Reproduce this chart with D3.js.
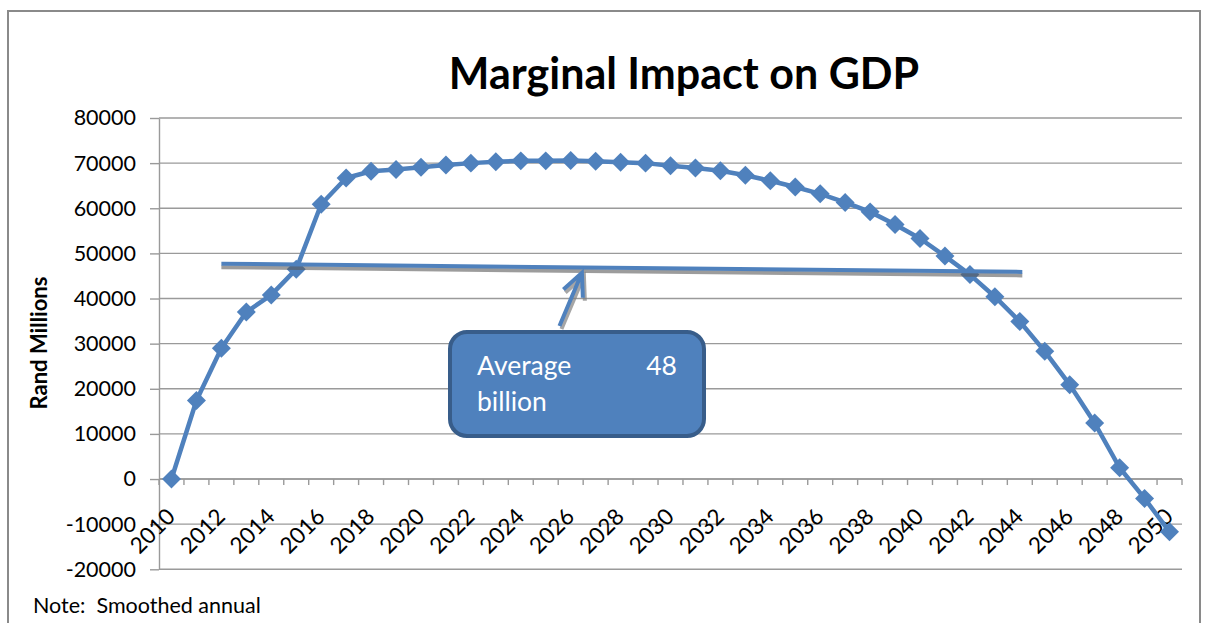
<!DOCTYPE html>
<html>
<head>
<meta charset="utf-8">
<script src="https://cdn.jsdelivr.net/npm/d3@7/dist/d3.min.js"></script>
<style>
  body { margin: 0; background: #fff; }
  svg { display: block; font-family: Lato, 'Open Sans', sans-serif; }
</style>
</head>
<body>
<div id="chart"></div>
<script>
// data
var years = [2010, 2011, 2012, 2013, 2014, 2015, 2016, 2017, 2018, 2019,
  2020, 2021, 2022, 2023, 2024, 2025, 2026, 2027, 2028, 2029,
  2030, 2031, 2032, 2033, 2034, 2035, 2036, 2037, 2038, 2039,
  2040, 2041, 2042, 2043, 2044, 2045, 2046, 2047, 2048, 2049, 2050];

var impact = [0, 17400, 29000, 37000, 40800, 46500, 60900, 66700, 68200, 68600,
  69100, 69600, 70000, 70300, 70500, 70500, 70600, 70400, 70200, 70000,
  69400, 68900, 68300, 67300, 66100, 64700, 63200, 61300, 59200, 56400,
  53300, 49400, 45300, 40400, 34900, 28300, 20900, 12400, 2500, -4300, -11700];

var yTicks = [-20000, -10000, 0, 10000, 20000, 30000, 40000, 50000, 60000, 70000, 80000];

// hand-drawn average line and arrow (year, value)
var avgYears = [2012, 2044.1];
var avgValues = [47700, 45900];
var arrowYears = [2025.55, 2026.45];
var arrowValues = [33900, 45700];

var titleText = 'Marginal Impact on GDP';
var yTitle = 'Rand Millions';
var noteText = 'Note:  Smoothed annual';
var calloutLines = ['Average', 'billion'];
var calloutValue = '48';

(function() {
  var width = 1205;
  var height = 623;

  // plot area edges
  var left = 159;
  var right = 1182;
  var top = 118;
  var bottom = 569.3;

  var blue = '#4f81bd';
  var gridColor = '#9a9a9a';

  var svg = d3.select('#chart').append('svg')
    .attr('width', width)
    .attr('height', height);

  // chart frame
  svg.append('rect')
    .attr('x', 8).attr('y', 11)
    .attr('width', 1192).attr('height', 700)
    .attr('fill', '#fff')
    .attr('stroke', '#8a8a8a')
    .attr('stroke-width', 2);

  var x = d3.scaleBand()
    .domain(years)
    .range([left, right])
    .paddingInner(0)
    .paddingOuter(0);
  var bw = x.bandwidth();

  // continuous x for annotations placed between categories
  var xLin = d3.scaleLinear()
    .domain([years[0], years[years.length - 1]])
    .range([x(years[0]) + bw / 2, x(years[years.length - 1]) + bw / 2]);

  var y = d3.scaleLinear()
    .domain([yTicks[0], yTicks[yTicks.length - 1]])
    .range([bottom, top]);

  // grid
  svg.append('g')
    .selectAll('line')
    .data(yTicks)
    .enter()
    .append('line')
    .attr('x1', left)
    .attr('x2', right)
    .attr('y1', function(d) { return y(d); })
    .attr('y2', function(d) { return y(d); })
    .attr('stroke', gridColor)
    .attr('stroke-width', 1.4);

  // y axis (plain hyphen for negatives, like the original)
  var yaxis = d3.axisLeft(y)
    .tickValues(yTicks)
    .tickSize(9)
    .tickSizeOuter(0)
    .tickPadding(14)
    .tickFormat(function(d) { return String(d); });

  var yg = svg.append('g')
    .attr('transform', 'translate(' + left + ',0)')
    .call(yaxis);
  yg.selectAll('path, line').attr('stroke', gridColor).attr('stroke-width', 1.4);
  yg.selectAll('text')
    .attr('fill', '#000')
    .style('font-size', '21.5px')
    .style('font-family', 'Lato, sans-serif');

  // x axis at zero, ticks between categories
  var xg = svg.append('g')
    .attr('transform', 'translate(0,' + y(0) + ')');
  xg.append('line')
    .attr('x1', left).attr('x2', right)
    .attr('stroke', gridColor).attr('stroke-width', 1.4);
  xg.selectAll('.tick-mark')
    .data(years.concat(['end']))
    .enter()
    .append('line')
    .classed('tick-mark', true)
    .attr('x1', function(d) { return d === 'end' ? right : x(d); })
    .attr('x2', function(d) { return d === 'end' ? right : x(d); })
    .attr('y1', 0)
    .attr('y2', 6)
    .attr('stroke', gridColor)
    .attr('stroke-width', 1.4);

  xg.selectAll('.x-label')
    .data(years.filter(function(d) { return d % 2 === 0; }))
    .enter()
    .append('text')
    .classed('x-label', true)
    .attr('text-anchor', 'end')
    .attr('transform', function(d) {
      return 'translate(' + (x(d) + bw / 2 + 5) + ',39) rotate(-45)';
    })
    .style('font-size', '22.5px')
    .attr('fill', '#000')
    .text(function(d) { return d; });

  // series
  var line = d3.line()
    .x(function(d, i) { return x(years[i]) + bw / 2; })
    .y(function(d) { return y(d); });

  svg.append('path')
    .datum(impact)
    .attr('d', line)
    .attr('fill', 'none')
    .attr('stroke', blue)
    .attr('stroke-width', 4.5)
    .attr('stroke-linejoin', 'round');

  svg.append('g')
    .selectAll('path')
    .data(impact)
    .enter()
    .append('path')
    .attr('d', d3.symbol().type(d3.symbolSquare).size(180))
    .attr('transform', function(d, i) {
      return 'translate(' + (x(years[i]) + bw / 2) + ',' + y(d) + ') rotate(45)';
    })
    .attr('fill', blue);

  // average line with shadow
  var avgPts = avgYears.map(function(d, i) { return [xLin(d), y(avgValues[i])]; });
  svg.append('line')
    .attr('x1', avgPts[0][0]).attr('y1', avgPts[0][1] + 3.5)
    .attr('x2', avgPts[1][0]).attr('y2', avgPts[1][1] + 3.5)
    .attr('stroke', '#5a5a5a')
    .attr('stroke-opacity', 0.6)
    .attr('stroke-width', 4);
  svg.append('line')
    .attr('x1', avgPts[0][0]).attr('y1', avgPts[0][1])
    .attr('x2', avgPts[1][0]).attr('y2', avgPts[1][1])
    .attr('stroke', blue)
    .attr('stroke-width', 4);

  // arrow pointing at the line
  var tail = [xLin(arrowYears[0]), y(arrowValues[0])];
  var tip = [xLin(arrowYears[1]), y(arrowValues[1])];
  var back = Math.atan2(tail[1] - tip[1], tail[0] - tip[0]);
  var wing = 25;
  var spread = 25 * Math.PI / 180;
  var w1 = [tip[0] + wing * Math.cos(back + spread), tip[1] + wing * Math.sin(back + spread)];
  var w2 = [tip[0] + wing * Math.cos(back - spread), tip[1] + wing * Math.sin(back - spread)];
  var arrowPath = 'M' + tail + 'L' + tip + 'M' + w1 + 'L' + tip + 'L' + w2;

  svg.append('path')
    .attr('d', arrowPath)
    .attr('transform', 'translate(2,3)')
    .attr('fill', 'none')
    .attr('stroke', '#808080')
    .attr('stroke-opacity', 0.7)
    .attr('stroke-width', 4);
  svg.append('path')
    .attr('d', arrowPath)
    .attr('fill', 'none')
    .attr('stroke', blue)
    .attr('stroke-width', 4);

  // callout box
  var box = svg.append('g').attr('transform', 'translate(448,330)');
  box.append('rect')
    .attr('x', 2).attr('y', 2)
    .attr('width', 254).attr('height', 104)
    .attr('rx', 17)
    .attr('fill', blue)
    .attr('stroke', '#385d8a')
    .attr('stroke-width', 4);
  box.selectAll('.cl')
    .data(calloutLines)
    .enter()
    .append('text')
    .attr('x', 29)
    .attr('y', function(d, i) { return 45 + i * 36; })
    .attr('fill', '#fff')
    .style('font-size', '26.5px')
    .text(function(d) { return d; });
  box.append('text')
    .attr('x', 229)
    .attr('y', 45)
    .attr('text-anchor', 'end')
    .attr('fill', '#fff')
    .style('font-size', '26.5px')
    .text(calloutValue);

  // titles
  svg.append('text')
    .attr('x', 684)
    .attr('y', 89)
    .attr('text-anchor', 'middle')
    .style('font-size', '43px')
    .style('font-weight', 'bold')
    .text(titleText);

  svg.append('text')
    .attr('transform', 'translate(47,343) rotate(-90)')
    .attr('text-anchor', 'middle')
    .style('font-size', '22px')
    .style('font-weight', 'bold')
    .text(yTitle);

  svg.append('text')
    .attr('x', 33)
    .attr('y', 613)
    .style('font-size', '21.5px')
    .style('white-space', 'pre')
    .text(noteText);
})();
</script>
</body>
</html>
